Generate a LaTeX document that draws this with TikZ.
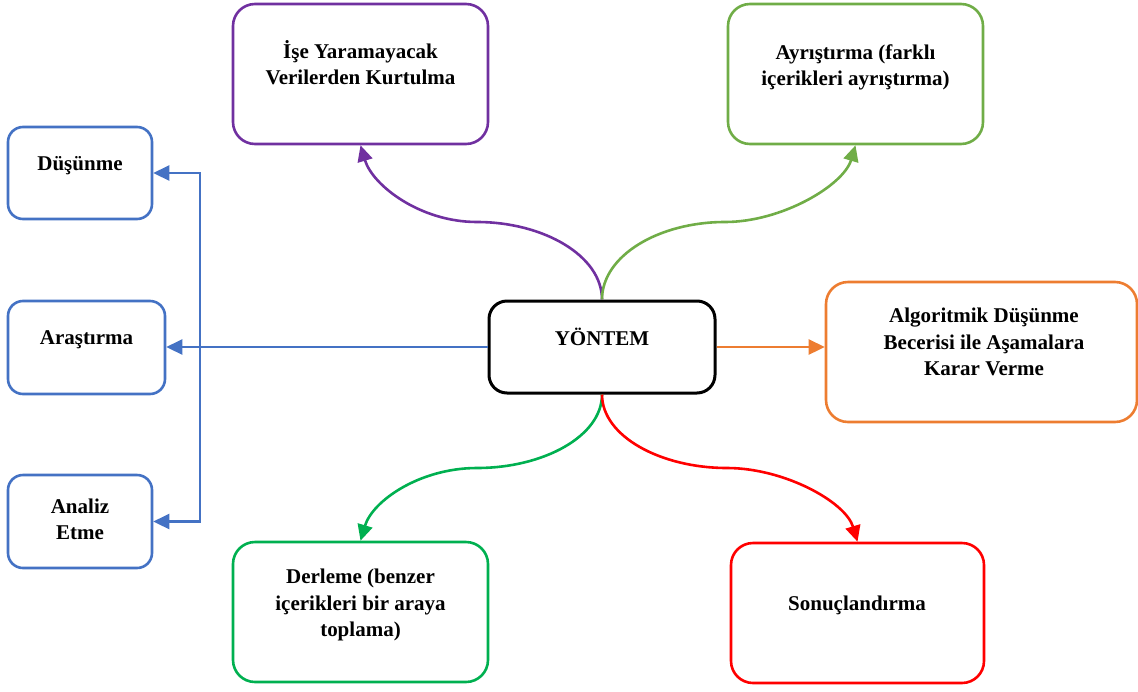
\documentclass[tikz,border=0pt]{standalone}
\usepackage{fontspec}
\setmainfont{Liberation Serif}
\usetikzlibrary{arrows.meta,calc}
\definecolor{blueC}{HTML}{4472C4}
\definecolor{purpleC}{HTML}{7030A0}
\definecolor{lgreenC}{HTML}{70AD47}
\definecolor{orangeC}{HTML}{ED7D31}
\definecolor{greenC}{HTML}{00B050}
\definecolor{redC}{HTML}{FF0000}
\begin{document}
\begin{tikzpicture}[x=1pt,y=-1pt,
  >={Triangle[length=16pt,width=15pt]},
  box/.style={draw, line width=2.6pt, inner sep=0pt, rounded corners=22pt,
              minimum width=255pt, minimum height=140pt},
  smallbox/.style={box, rounded corners=15pt, minimum width=144pt, minimum height=92pt},
  txt/.style={font=\fontsize{21}{26.5}\selectfont\bfseries, align=center, inner sep=0pt},
  link/.style={line width=2.6pt, ->}]
\useasboundingbox (0,0) rectangle (1138,691);

% central node
\node[box, rounded corners=18pt, line width=3pt, minimum width=226pt, minimum height=92pt] (yon) at (602,347) {};
\node[txt] (yon-t) at (602,337) {YÖNTEM};

% left column
\node[smallbox, blueC] (dus) at (80,173) {};
\node[txt] (dus-t) at (80,165.5) {Düşünme};
\node[smallbox, blueC, minimum width=157pt, minimum height=93pt] (ara) at (86.5,347.5) {};
\node[txt] (ara-t) at (86.5,340) {Araştırma};
\node[smallbox, blueC, minimum height=93pt] (ana) at (80,521.5) {};
\node[txt] (ana-t) at (80,519.5) {Analiz\\Etme};

% upper boxes
\node[box, purpleC] (ise) at (360.5,74) {};
\node[txt] (ise-t) at (360.5,62.5) {İşe Yaramayacak\\Verilerden Kurtulma};
\node[box, lgreenC] (ayr) at (855.5,74) {};
\node[txt] (ayr-t) at (855.5,67.5) {Ayrıştırma (farklı\\içerikleri ayrıştırma)};

% right box
\node[box, orangeC, minimum width=311pt] (alg) at (981.5,352) {};
\node[txt] (alg-t) at (984,342) {Algoritmik Düşünme\\Becerisi ile Aşamalara\\Karar Verme};

% lower boxes
\node[box, greenC] (der) at (360.5,612) {};
\node[txt] (der-t) at (360.5,605) {Derleme (benzer\\içerikleri bir araya\\toplama)};
\node[box, redC, minimum width=253pt] (son) at (857.5,613) {};
\node[txt] (son-t) at (857,605) {Sonuçlandırma};

% straight connectors
\coordinate (spine) at (200,347);
\draw[link, blueC] (yon.west) -- (yon.west -| ara.east);
\draw[line width=2.6pt, blueC, <->] (dus.east) -| (spine) |- (ana.east);
\draw[link, orangeC] (yon.east) -- (yon.east -| alg.west);

% curved connectors, each bending through a level midpoint
\coordinate (mUL) at (477,222);
\coordinate (mUR) at (725,222);
\coordinate (mDL) at (477,468);
\coordinate (mDR) at (727,468);

\draw[link, purpleC] (yon.north)
  .. controls ($(yon.north)+(0,-44)$) and ($(mUL)+(66,0)$) .. (mUL)
  .. controls ($(mUL)+(-57,0)$) and ($(ise.south)+(12,40)$) .. (ise.south);
\draw[link, lgreenC] (yon.north)
  .. controls ($(yon.north)+(0,-44)$) and ($(mUR)+(-66,0)$) .. (mUR)
  .. controls ($(mUR)+(57,0)$) and ($(ayr.south)+(-12,40)$) .. (ayr.south);
\draw[link, greenC] (yon.south)
  .. controls ($(yon.south)+(0,42)$) and ($(mDL)+(66,0)$) .. (mDL)
  .. controls ($(mDL)+(-57,0)$) and ($(der.north)+(12,-40)$) .. (der.north);
\draw[link, redC] (yon.south)
  .. controls ($(yon.south)+(0,42)$) and ($(mDR)+(-66,0)$) .. (mDR)
  .. controls ($(mDR)+(57,0)$) and ($(son.north)+(-12,-40)$) .. (son.north);
\end{tikzpicture}
\end{document}
